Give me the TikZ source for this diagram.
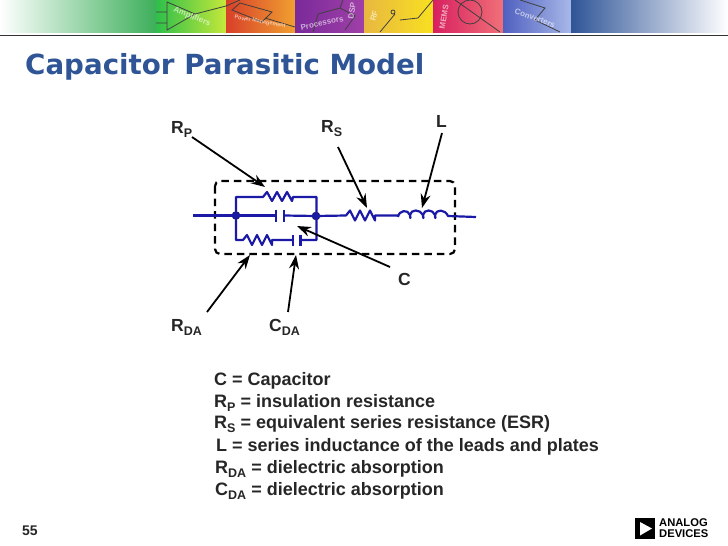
\documentclass[tikz,border=0pt]{standalone}
\usepackage{fontspec}
\setmainfont{Liberation Sans}
\newfontfamily\titlefont{DejaVu Sans}
\usetikzlibrary{arrows.meta}
\definecolor{wireblue}{HTML}{1A1AA6}
\definecolor{titleblue}{HTML}{2F5597}
\tikzset{
  x=1pt,y=-1pt,
  wire/.style={draw=wireblue,line width=2.2pt,line join=round},
  junction/.style={circle,fill=wireblue,draw=black!70!wireblue,line width=.4pt,inner sep=0pt,minimum size=8pt},
  pointer/.style={draw=black,line width=1.8pt,-{Stealth[length=14pt,width=10pt]}},
  lab/.style={font=\fontsize{17.5}{19}\selectfont\bfseries,text=black!85,inner sep=0pt,anchor=base},
  legend/.style={font=\fontsize{18}{20}\selectfont\bfseries,text=black!85,inner sep=0pt,anchor=base west},
  bannertext/.style={font=\fontsize{8}{9}\selectfont\bfseries,text=white,opacity=.6,inner sep=0pt},
  bannerline/.style={draw=black!75,line width=.8pt},
}
\newcommand{\sub}[1]{\raisebox{-.25em}{\fontsize{12.5}{13}\selectfont #1}}
\begin{document}
\begin{tikzpicture}
\useasboundingbox (0,0) rectangle (728,546);
\fill[white] (0,0) rectangle (728,546);
% banner
\definecolor{bgreen}{HTML}{3CAF5A}
\definecolor{pa}{HTML}{2FBF4A}\definecolor{pb}{HTML}{C4E83A}
\definecolor{pc}{HTML}{D8402A}\definecolor{pd}{HTML}{F0A030}
\definecolor{pe}{HTML}{7A2A9A}\definecolor{pf}{HTML}{A040A8}
\definecolor{pg}{HTML}{E8B840}\definecolor{ph}{HTML}{F8E020}
\definecolor{pi}{HTML}{D82060}\definecolor{pj}{HTML}{F07078}
\definecolor{pk}{HTML}{5060C0}\definecolor{pl}{HTML}{A8B8E8}
\shade[left color=white,right color=bgreen] (0,0) rectangle (156,32.5);
\shade[left color=pa,right color=pb] (156,0) rectangle (226,32.5);
\shade[left color=pc,right color=pd] (226,0) rectangle (295,32.5);
\shade[left color=pe,right color=pf] (295,0) rectangle (364,32.5);
\shade[left color=pg,right color=ph] (364,0) rectangle (433,32.5);
\shade[left color=pi,right color=pj] (433,0) rectangle (503,32.5);
\shade[left color=pk,right color=pl] (503,0) rectangle (571,32.5);
\shade[left color=titleblue,right color=white] (571,0) rectangle (728,32.5);
\begin{scope}
\clip (156,0) rectangle (571,32.5);
\draw[bannerline] (156,12)--(167,12) (156,23)--(167,23) (167,2)--(167,30)--(195,14)--cycle (195,14)--(226,6);
\draw[bannerline] (226,6)--(240,0) (240,3)--(272,12)--(262,22)--(232,10)--cycle (265,18)--(295,27);
\draw[bannerline] (313,32)--(318,14)--(340,8)--(355,16)--(345,30) (340,8)--(343,0);
\draw[bannerline] (380,32)--(395,14) (393,12) circle (2pt) (400,20)--(418,18)--(433,0);
\draw[bannerline] (470,12) circle (12pt) (455,0)--(500,32);
\draw[bannerline] (520,0)--(545,8)--(535,20)--(560,32);
\end{scope}
\node[bannertext,rotate=-22] (bt1) at (192,17) {Amplifiers};
\node[bannertext,rotate=-10,font=\fontsize{5.5}{6}\selectfont\bfseries] (bt2) at (260,22) {Power Management};
\node[bannertext,rotate=12] (bt3) at (322,23) {Processors};
\node[bannertext,rotate=80] (bt4) at (352,11) {DSP};
\node[bannertext,rotate=75] (bt5) at (374,16) {RF};
\node[bannertext,rotate=80] (bt6) at (444,17) {MEMS};
\node[bannertext,rotate=-20] (bt7) at (535,18) {Converters};
\fill[black!80] (0,35) rectangle (728,36.4);
% title
\node[font=\titlefont\fontsize{27.7}{30}\selectfont\bfseries,text=titleblue,inner sep=0pt,anchor=base west] (title) at (25,74.5) {Capacitor Parasitic Model};
% dashed box
\draw[black,line width=2.2pt,dash pattern=on 7.5pt off 5pt,rounded corners=5pt] (215,181) rectangle (455,254);
% junctions and points
\coordinate (w0) at (193,215.5);
\node[junction] (j1) at (236,215.5) {};
\node[junction] (j2) at (316,216) {};
\coordinate (w9) at (476,217);
% branches
\draw[wire] (j1.center) -- (236,197) -- (263,197) -- ++(4,-5) -- ++(5,9) -- ++(5,-9) -- ++(5,9) -- ++(5,-9) -- ++(5,9) -- (293,197) -- (316.5,197) -- (316.5,240) -- (300.5,240);
\draw[wire] (j1.center) -- (236,240) -- (243,240) -- ++(4,-5) -- ++(5,10) -- ++(5,-10) -- ++(5,10) -- ++(5,-10) -- ++(5,10) -- (272,240) -- (293,240);
\draw[wire] (w0) -- (j1.center) -- (276,215.5);
\draw[wire] (276,209.5) -- (276,222) (284,209.5) -- (284,222);
\draw[wire] (284,215.5) -- (j2.center);
\draw[wire] (293,235) -- (293,246) (300.5,235) -- (300.5,246);
\draw[wire] (j2.center) -- (346,215.5) -- ++(4,-5) -- ++(5,10) -- ++(5,-10) -- ++(5,10) -- ++(5,-10) -- ++(5,10) -- (375,215.5) -- (398,215.5);
\draw[wire] (398,217) .. controls (399,210) and (408,209) .. (410,215) .. controls (411,219) and (410,219) .. (410,215) .. controls (411,209) and (420,209) .. (423,215) .. controls (424,219) and (423,219) .. (423,215) .. controls (424,209) and (433,209) .. (435,215) .. controls (436,219) and (435,219) .. (435,215) .. controls (436,209) and (445,209) .. (448,216) -- (w9);
% labels
\node[lab,anchor=base west] (lrp) at (171,133) {R\sub{P}};
\node[lab,anchor=base west] (lrs) at (321,132) {R\sub{S}};
\node[lab,anchor=base west] (ll) at (436,127) {L};
\node[lab,anchor=base west] (lc) at (398,285) {C};
\node[lab,anchor=base west] (lrda) at (171,331) {R\sub{DA}};
\node[lab,anchor=base west] (lcda) at (269,331) {C\sub{DA}};
% arrow ends
\coordinate (arp) at (192,137); \coordinate (brp) at (265,187);
\coordinate (ars) at (338,147); \coordinate (brs) at (367,208);
\coordinate (al) at (442,133);  \coordinate (bl) at (422,208);
\coordinate (ac) at (390,267);  \coordinate (bc) at (297,226);
\coordinate (arda) at (207,312);\coordinate (brda) at (250,255);
\coordinate (acda) at (288,312);\coordinate (bcda) at (296,255);
\draw[pointer] (arp) -- (brp);
\draw[pointer] (ars) -- (brs);
\draw[pointer] (al) -- (bl);
\draw[pointer] (ac) -- (bc);
\draw[pointer] (arda) -- (brda);
\draw[pointer] (acda) -- (bcda);
% legend
\node[legend] (t1) at (214,385) {C = Capacitor};
\node[legend] (t2) at (214,407) {R\sub{P} = insulation resistance};
\node[legend] (t3) at (214,428) {R\sub{S} = equivalent series resistance (ESR)};
\node[legend] (t4) at (216,451) {L = series inductance of the leads and plates};
\node[legend] (t5) at (215,473) {R\sub{DA} = dielectric absorption};
\node[legend] (t6) at (215,495) {C\sub{DA} = dielectric absorption};
% footer
\node[font=\fontsize{14}{16}\selectfont\bfseries,text=black!85,inner sep=0pt,anchor=base west] (pgn) at (22,535) {55};
\fill[black] (635,518) rectangle (655,539);
\fill[white] (640,522) -- (652,528.5) -- (640,535.5) -- cycle;
\node[font=\fontsize{11.2}{11}\selectfont\bfseries,align=left,inner sep=0pt,anchor=west] (logo) at (659,528.5) {ANALOG\\DEVICES};
\end{tikzpicture}
\end{document}
